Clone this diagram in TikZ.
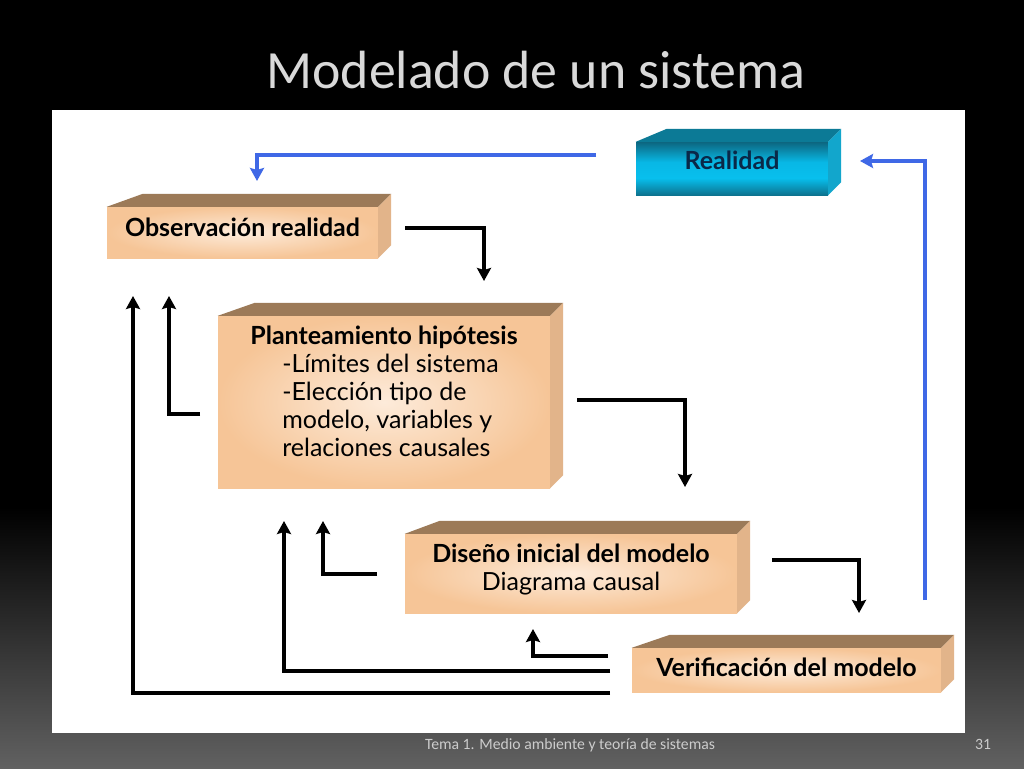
\documentclass[tikz,border=0pt]{standalone}
\usepackage{fontspec}
\setmainfont{Carlito}
\newfontfamily\boxfont{Lato}
\usetikzlibrary{arrows.meta}

\definecolor{tanfront}{HTML}{F6C597}
\definecolor{tanlight}{HTML}{FDEBDA}
\definecolor{tantop}{HTML}{9C7A58}
\definecolor{tanside}{HTML}{E2B48A}
\definecolor{cyantop}{HTML}{0C7A96}
\definecolor{cyanside}{HTML}{12A6CC}
\definecolor{flowblue}{HTML}{3F68E6}
\definecolor{realtext}{HTML}{0A2848}

\pgfdeclareverticalshading{slideback}{100bp}{rgb(0bp)=(.38,.38,.38);rgb(25bp)=(.38,.38,.38);rgb(42bp)=(0,0,0);rgb(100bp)=(0,0,0)}
\pgfdeclareverticalshading{realback}{100bp}{rgb(0bp)=(.05,.45,.56);rgb(25bp)=(.05,.45,.56);rgb(41bp)=(.03,.75,.93);rgb(56bp)=(.03,.72,.90);rgb(75bp)=(.05,.40,.50);rgb(100bp)=(.05,.40,.50)}

\newcommand{\prismfaces}[4]{
    \fill[#3] (#1.north west) -- ++(#2,-13) -- ([shift={(13,-13)}]#1.north east) -- (#1.north east) -- cycle;
    \fill[#4] (#1.north east) -- ++(13,-13) -- ([shift={(13,-13)}]#1.south east) -- (#1.south east) -- cycle;
}

\begin{document}
\begin{tikzpicture}[x=1pt,y=-1pt,
    >={Stealth[length=13pt,width=14pt,inset=2pt]},
    flow/.style={->,line width=3.4pt,black},
    bluflow/.style={->,line width=3.4pt,flowblue},
    raised/.style 2 args={text height=#1,text depth=#2},
    tanbox/.style={rectangle,inner sep=0pt,inner color=tanlight,outer color=tanfront,font=\boxfont\fontsize{25}{28}\selectfont},
    main title/.style={font=\fontsize{53.8}{60}\selectfont,text=black!15},
    foot text/.style={font=\fontsize{15.7}{18}\selectfont,text=black!20}]

            \useasboundingbox (0,0) rectangle (1024,768);
            \shade[shading=slideback] (0,0) rectangle (1024,768);
            \fill[white] (52,110) rectangle (965,733);

            \node[main title] (title) at (536,70) {Modelado de un sistema};
            \node[foot text] (foot) at (570,745) {Tema 1. Medio ambiente y teoría de sistemas};
            \node[foot text] (page) at (983,744) {31};

            \node[rectangle,inner sep=0pt,shading=realback,minimum width=192pt,minimum height=53pt,raised={18pt}{17pt},text=realtext,font=\boxfont\bfseries\fontsize{25}{28}\selectfont] (real) at (732,168.5) {Realidad};
            \prismfaces{real}{31}{cyantop}{cyanside}

            \node[tanbox,minimum width=271pt,minimum height=51pt,raised={18pt}{11pt}] (obs) at (242.5,232.5) {\bfseries Observación realidad};
            \prismfaces{obs}{36}{tantop}{tanside}

            \node[tanbox,minimum width=332pt,minimum height=172pt,raised={130pt}{22pt},align=left] (hip) at (384,402) {\bfseries Planteamiento hipótesis\\
                \hspace*{32pt}-Límites del sistema\\
                \hspace*{32pt}-Elección tipo de\\
                \hspace*{32pt}modelo, variables y\\
                \hspace*{32pt}relaciones causales};
            \prismfaces{hip}{37}{tantop}{tanside}

            \node[tanbox,minimum width=332pt,minimum height=79pt,raised={46pt}{13pt},align=center] (dis) at (571,573.5) {\bfseries Diseño inicial del modelo\\Diagrama causal};
            \prismfaces{dis}{35}{tantop}{tanside}

            \node[tanbox,minimum width=309pt,minimum height=44pt,raised={18pt}{5pt}] (ver) at (786.5,670) {\bfseries Verificación del modelo};
            \prismfaces{ver}{38}{tantop}{tanside}

            \coordinate (c1) at (596,155);
            \coordinate (c2) at (257,181);
            \coordinate (c3) at (925,600);
            \coordinate (c4) at (860,161);
            \coordinate (c5) at (405,228);
            \coordinate (c6) at (484,281);
            \coordinate (c7) at (577,400);
            \coordinate (c8) at (685,487);
            \coordinate (c9) at (772,560);
            \coordinate (c10) at (859,613);
            \coordinate (c11) at (200,414);
            \coordinate (c12) at (169,296);
            \coordinate (c13) at (377,574);
            \coordinate (c14) at (323,521);
            \coordinate (c15) at (608,656);
            \coordinate (c16) at (533,629);
            \coordinate (c17) at (610,671);
            \coordinate (c18) at (284,521);
            \coordinate (c19) at (610,693);
            \coordinate (c20) at (133,296);

            \draw[bluflow] (c1) -| (c2);
            \draw[bluflow] (c3) |- (c4);
            \draw[flow] (c5) -| (c6);
            \draw[flow] (c7) -| (c8);
            \draw[flow] (c9) -| (c10);
            \draw[flow] (c11) -| (c12);
            \draw[flow] (c13) -| (c14);
            \draw[flow] (c15) -| (c16);
            \draw[flow] (c17) -| (c18);
            \draw[flow] (c19) -| (c20);
        \end{tikzpicture}
\end{document}
